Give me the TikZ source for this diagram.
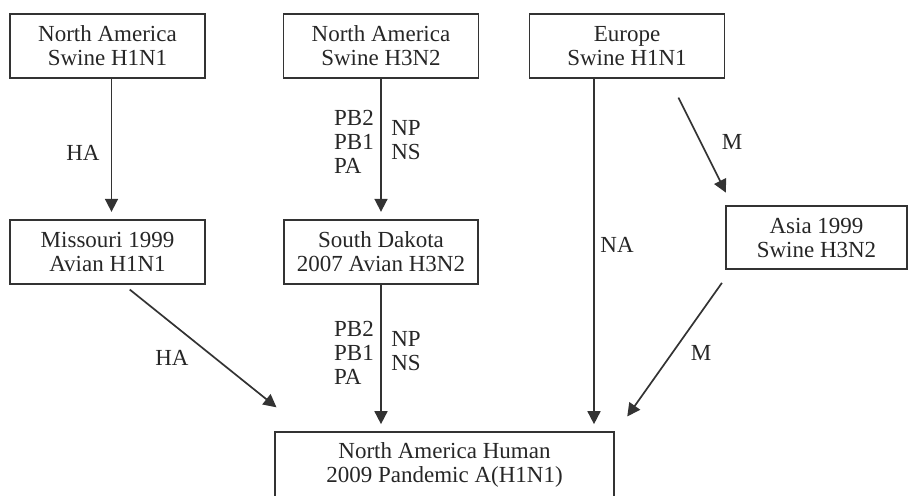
\documentclass[tikz,border=0pt]{standalone}
\usepackage{fontspec}
\setmainfont{Liberation Serif}
\usetikzlibrary{arrows.meta,positioning}

\def\txtsize{\fontsize{23}{24}\selectfont}

\begin{document}
\begin{tikzpicture}[x=1pt,y=-1pt,->,>={Triangle[length=13pt,width=13pt]},shorten >=7pt,line width=1.7pt,draw=black!80,text=black!85]
\tikzstyle{strain}=[draw,rectangle,minimum width=195pt,minimum height=64pt,inner sep=0pt,align=center,font=\txtsize]
\tikzstyle{gene}=[inner sep=0pt,align=left,font=\txtsize]

\useasboundingbox (0,0) rectangle (909,495);

% Draw the source strains
\node[strain] (NAsH1) at (107.5,46) {North America\\Swine H1N1};
\node[strain] (NAsH3) at (381,46) {North America\\Swine H3N2};
\node[strain] (EUsH1) at (627,46) {Europe\\Swine H1N1};

% Draw the intermediate strains
\node[strain, below=140pt of NAsH1] (MOaH1) {Missouri 1999\\Avian H1N1};
\node[strain, below=140pt of NAsH3, minimum width=194pt] (SDaH3) {South Dakota\\2007 Avian H3N2};
\node[strain, minimum width=181pt, minimum height=63pt] (ASsH3) at (816.5,237.5) {Asia 1999\\Swine H3N2};

% Draw the pandemic strain
\node[strain, minimum width=339pt, minimum height=66pt] (Pdm) at (444.5,465) {North America Human\\2009 Pandemic A(H1N1)};

% Connect the strains
\draw ([xshift=4pt]NAsH1.south) -- ([xshift=4pt]MOaH1.north);
\draw (NAsH3) -- (SDaH3);
\draw (SDaH3) -- (SDaH3 |- Pdm.north);
\coordinate (NAtop) at ([xshift=-33pt]EUsH1.south);
\draw (NAtop) -- (NAtop |- Pdm.north);
\draw[shorten <=21pt,shorten >=14pt] ([xshift=42pt]EUsH1.south) -- ([xshift=7pt]ASsH3.north west);
\draw[shorten <=16pt,shorten >=18pt] ([xshift=6pt]ASsH3.south west) -- ([xshift=2pt]Pdm.north east);
\draw[shorten <=8pt,shorten >=38pt] ([xshift=16pt]MOaH1.south) -- ([xshift=32pt]Pdm.north west);

% Write the segment labels
\node[gene] (HA-1) at (83,153) {HA};
\node[gene] (HA-2) at (172,358) {HA};
\foreach \name/\y in {1/142,2/353} {
  \node[gene] (PB-\name) at (354,\y) {PB2\\PB1\\PA};
  \node[gene] (NP-\name) at (406,\y-2) {NP\\NS};
}
\node[gene] (NA-1) at (617,245) {NA};
\node[gene] (M-1) at (732,142) {M};
\node[gene] (M-2) at (701,353) {M};

\end{tikzpicture}
\end{document}
